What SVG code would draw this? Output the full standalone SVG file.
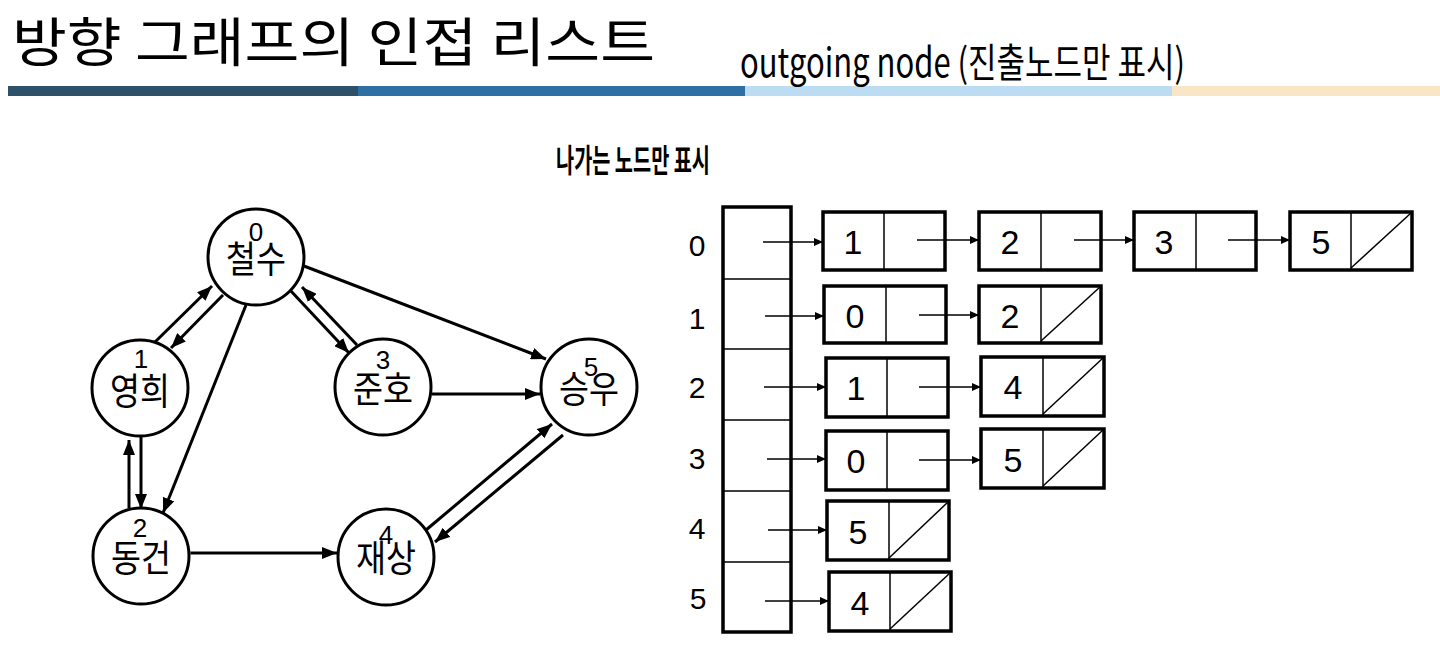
<svg xmlns="http://www.w3.org/2000/svg" width="1440" height="645" viewBox="0 0 1440 645">
<style>
.kr{font-family:"Noto Sans CJK KR","Noto Sans",sans-serif;fill:#000}
.num{font-family:"Liberation Sans",Arial,sans-serif;fill:#000}
.circ{fill:#fff;stroke:#000;stroke-width:3}
.edge{stroke:#000;stroke-width:3;fill:none;marker-end:url(#ah)}
.box{fill:#fff;stroke:#000;stroke-width:3.5}
.thin{stroke:#000;stroke-width:1.5;fill:none}
.ptr{stroke:#000;stroke-width:1.3;fill:none;marker-end:url(#sa)}
</style>
<defs>
<marker id="ah" markerUnits="userSpaceOnUse" markerWidth="15" markerHeight="12" refX="15" refY="6" orient="auto"><path d="M0,0 L15,6 L0,12 z" fill="#000"/></marker>
<marker id="sa" markerUnits="userSpaceOnUse" markerWidth="9" markerHeight="8" refX="9" refY="4" orient="auto"><path d="M0,0 L9,4 L0,8 z" fill="#000"/></marker>
</defs>
<rect width="1440" height="645" fill="#fff"/>
<g id="title">
<text class="kr" x="12" y="62" font-size="53" textLength="643" lengthAdjust="spacingAndGlyphs">방향 그래프의 인접 리스트</text>
<rect x="8" y="86" width="350" height="10" fill="#2c5168"/>
<rect x="358" y="86" width="387" height="10" fill="#2e70a4"/>
<rect x="745" y="86" width="427" height="10" fill="#bcdcf4"/>
<rect x="1172" y="86" width="268" height="10" fill="#f8e6c6"/>
<text class="kr" x="740" y="77" font-size="40" textLength="445" lengthAdjust="spacingAndGlyphs">outgoing node (진출노드만 표시)</text>
<text class="kr" x="556" y="172" font-size="32" font-weight="bold" textLength="154" lengthAdjust="spacingAndGlyphs">나가는 노드만 표시</text>
</g>
<g id="edges">
<line class="edge" x1="155" y1="342" x2="212" y2="286"/>
<line class="edge" x1="223" y1="295" x2="171" y2="348"/>
<line class="edge" x1="290" y1="290" x2="349" y2="353"/>
<line class="edge" x1="357" y1="345" x2="302" y2="287"/>
<line class="edge" x1="304" y1="266" x2="546" y2="359"/>
<line class="edge" x1="246" y1="305" x2="163" y2="513"/>
<line class="edge" x1="129" y1="508" x2="129" y2="440"/>
<line class="edge" x1="141" y1="437" x2="141" y2="509"/>
<line class="edge" x1="432" y1="394" x2="540" y2="394"/>
<line class="edge" x1="190.4" y1="553" x2="337" y2="553"/>
<line class="edge" x1="426" y1="530" x2="552" y2="424"/>
<line class="edge" x1="563" y1="435" x2="435" y2="542"/>
</g>
<g id="n0"><circle class="circ" cx="256" cy="257" r="48"/><text class="kr" x="256" y="273" font-size="37" text-anchor="middle" textLength="60" lengthAdjust="spacingAndGlyphs">철수</text><text class="num" x="256" y="241" font-size="26" text-anchor="middle">0</text></g>
<g id="n1"><circle class="circ" cx="140" cy="388" r="48"/><text class="kr" x="140" y="405" font-size="37" text-anchor="middle" textLength="60" lengthAdjust="spacingAndGlyphs">영희</text><text class="num" x="141" y="368" font-size="26" text-anchor="middle">1</text></g>
<g id="n2"><circle class="circ" cx="141" cy="556" r="48"/><text class="kr" x="141" y="572" font-size="37" text-anchor="middle" textLength="60" lengthAdjust="spacingAndGlyphs">동건</text><text class="num" x="140" y="537" font-size="26" text-anchor="middle">2</text></g>
<g id="n3"><circle class="circ" cx="383" cy="387" r="48"/><text class="kr" x="383" y="403" font-size="37" text-anchor="middle" textLength="60" lengthAdjust="spacingAndGlyphs">준호</text><text class="num" x="383" y="369" font-size="26" text-anchor="middle">3</text></g>
<g id="n4"><circle class="circ" cx="386" cy="557" r="48"/><text class="kr" x="386" y="572" font-size="37" text-anchor="middle" textLength="60" lengthAdjust="spacingAndGlyphs">재상</text><text class="num" x="386" y="544" font-size="26" text-anchor="middle">4</text></g>
<g id="n5"><circle class="circ" cx="589" cy="387" r="48"/><text class="kr" x="589" y="403" font-size="37" text-anchor="middle" textLength="60" lengthAdjust="spacingAndGlyphs">승우</text><text class="num" x="591" y="376" font-size="26" text-anchor="middle">5</text></g>
<g id="array">
<rect class="box" x="723" y="207" width="68" height="425"/>
<path class="thin" d="M723,279H791M723,349H791M723,420H791M723,491H791M723,562H791"/>
<text class="num" x="697" y="256" font-size="30" text-anchor="middle">0</text>
<text class="num" x="697" y="329" font-size="30" text-anchor="middle">1</text>
<text class="num" x="697" y="398" font-size="30" text-anchor="middle">2</text>
<text class="num" x="697" y="469" font-size="30" text-anchor="middle">3</text>
<text class="num" x="697" y="539" font-size="30" text-anchor="middle">4</text>
<text class="num" x="698" y="609" font-size="30" text-anchor="middle">5</text>
</g>
<g id="list-nodes">
<g id="r0a"><rect class="box" x="823" y="212" width="122" height="58"/><line class="thin" x1="884" y1="212" x2="884" y2="270"/><text class="num" x="853" y="254" font-size="34" text-anchor="middle">1</text></g>
<g id="r0b"><rect class="box" x="979" y="212" width="122" height="58"/><line class="thin" x1="1041" y1="212" x2="1041" y2="270"/><text class="num" x="1010" y="254" font-size="34" text-anchor="middle">2</text></g>
<g id="r0c"><rect class="box" x="1134" y="212" width="122" height="58"/><line class="thin" x1="1196" y1="212" x2="1196" y2="270"/><text class="num" x="1164" y="254" font-size="34" text-anchor="middle">3</text></g>
<g id="r0d"><rect class="box" x="1290" y="212" width="122" height="58"/><line class="thin" x1="1351" y1="212" x2="1351" y2="270"/><line class="thin" x1="1351" y1="268" x2="1411" y2="213"/><text class="num" x="1321" y="254" font-size="34" text-anchor="middle">5</text></g>
<g id="r1a"><rect class="box" x="824" y="286" width="122" height="57"/><line class="thin" x1="886" y1="286" x2="886" y2="343"/><text class="num" x="855" y="328" font-size="34" text-anchor="middle">0</text></g>
<g id="r1b"><rect class="box" x="979" y="286" width="122" height="57"/><line class="thin" x1="1041" y1="286" x2="1041" y2="343"/><line class="thin" x1="1041" y1="341" x2="1100" y2="287"/><text class="num" x="1010" y="328" font-size="34" text-anchor="middle">2</text></g>
<g id="r2a"><rect class="box" x="826" y="358" width="122" height="59"/><line class="thin" x1="887" y1="358" x2="887" y2="417"/><text class="num" x="856" y="400" font-size="34" text-anchor="middle">1</text></g>
<g id="r2b"><rect class="box" x="981" y="357" width="123" height="59"/><line class="thin" x1="1043" y1="357" x2="1043" y2="416"/><line class="thin" x1="1043" y1="414" x2="1103" y2="358"/><text class="num" x="1013" y="399" font-size="34" text-anchor="middle">4</text></g>
<g id="r3a"><rect class="box" x="826" y="431" width="122" height="59"/><line class="thin" x1="887" y1="431" x2="887" y2="490"/><text class="num" x="856" y="473" font-size="34" text-anchor="middle">0</text></g>
<g id="r3b"><rect class="box" x="981" y="429" width="123" height="59"/><line class="thin" x1="1043" y1="429" x2="1043" y2="488"/><line class="thin" x1="1043" y1="486" x2="1103" y2="430"/><text class="num" x="1013" y="472" font-size="34" text-anchor="middle">5</text></g>
<g id="r4a"><rect class="box" x="827" y="501" width="122" height="59"/><line class="thin" x1="889" y1="501" x2="889" y2="560"/><line class="thin" x1="889" y1="558" x2="948" y2="502"/><text class="num" x="858" y="544" font-size="34" text-anchor="middle">5</text></g>
<g id="r5a"><rect class="box" x="829" y="572" width="122" height="59"/><line class="thin" x1="890" y1="572" x2="890" y2="631"/><line class="thin" x1="890" y1="629" x2="950" y2="573"/><text class="num" x="860" y="615" font-size="34" text-anchor="middle">4</text></g>
</g>
<g id="list-links">
<line class="ptr" x1="763" y1="242" x2="823" y2="242"/>
<line class="ptr" x1="917" y1="240" x2="979" y2="240"/>
<line class="ptr" x1="1074" y1="240" x2="1134" y2="240"/>
<line class="ptr" x1="1228" y1="240" x2="1290" y2="240"/>
<line class="ptr" x1="765" y1="316" x2="824" y2="316"/>
<line class="ptr" x1="919" y1="315" x2="979" y2="315"/>
<line class="ptr" x1="764" y1="387" x2="826" y2="387"/>
<line class="ptr" x1="919" y1="387" x2="981" y2="387"/>
<line class="ptr" x1="767" y1="459" x2="826" y2="459"/>
<line class="ptr" x1="919" y1="460" x2="981" y2="460"/>
<line class="ptr" x1="768" y1="530" x2="827" y2="530"/>
<line class="ptr" x1="765" y1="601" x2="829" y2="601"/>
</g>
</svg>
